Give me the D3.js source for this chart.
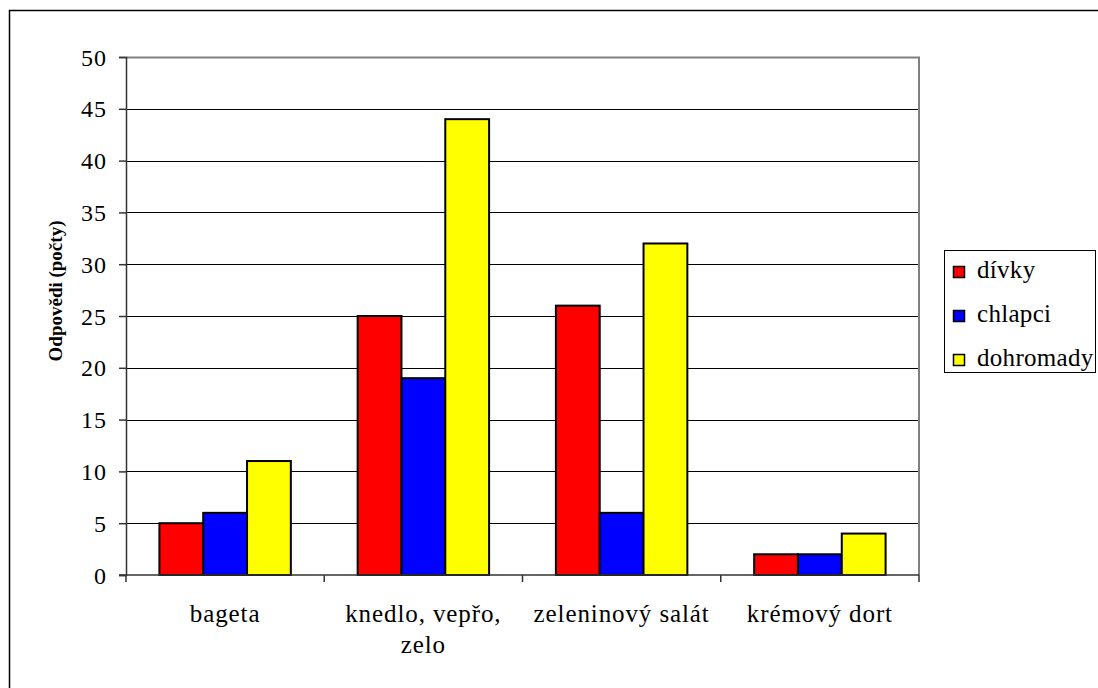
<!DOCTYPE html>
<html>
<head>
<meta charset="utf-8">
<script src="https://cdn.jsdelivr.net/npm/d3@7"></script>
<style>
  html, body { margin: 0; padding: 0; background: #fff; }
</style>
</head>
<body>
<svg id="chart" width="1098" height="688"></svg>
<script>
// Categories and series values
const categories = ["bageta", "knedlo, vepřo, zelo", "zeleninový salát", "krémový dort"];
const categoryLines = [["bageta"], ["knedlo, vepřo,", "zelo"], ["zeleninový salát"], ["krémový dort"]];
const seriesNames = ["dívky", "chlapci", "dohromady"];
const divky = [5, 25, 26, 2];
const chlapci = [6, 19, 6, 2];
const dohromady = [11, 44, 32, 4];
const yTicks = [0, 5, 10, 15, 20, 25, 30, 35, 40, 45, 50];
const seriesColors = ["#ff0000", "#0000ff", "#ffff00"];

const seriesValues = [divky, chlapci, dohromady];
const rows = categories.map((c, i) => ({
  cat: c,
  vals: seriesNames.map((s, j) => ({ key: s, value: seriesValues[j][i], color: seriesColors[j] }))
}));

// Pick the first installed Times-like serif face; DejaVu Serif is wider, so shrink it a bit.
function pickSerif() {
  const ctx = document.createElement("canvas").getContext("2d");
  const probe = "mmmmwwwwlllliiiiOOOO0123456789";
  const width = f => { ctx.font = `40px ${f}`; return ctx.measureText(probe).width; };
  const candidates = [
    { name: "Liberation Serif", scale: 1 },
    { name: "Times New Roman", scale: 1 },
    { name: "Tinos", scale: 1 },
    { name: "Noto Serif", scale: 0.9 },
    { name: "DejaVu Serif", scale: 0.86 }
  ];
  for (const c of candidates) {
    const a = width(`'${c.name}', monospace`), b = width("monospace");
    const a2 = width(`'${c.name}', sans-serif`), b2 = width("sans-serif");
    if (a !== b || a2 !== b2) return c;
  }
  return { name: "serif", scale: 1 };
}
const serif = pickSerif();
const FONT = `'${serif.name}', serif`;
const fs = s => s * serif.scale;

const svg = d3.select("#chart").attr("font-family", FONT);

// Outer frame
svg.append("rect")
  .attr("x", 9.5).attr("y", 10.5)
  .attr("width", 1098).attr("height", 700)
  .attr("fill", "none").attr("stroke", "#000").attr("stroke-width", 1.5);

const plot = { left: 126, top: 57, right: 919, bottom: 575 };

const x = d3.scaleBand().domain(categories).range([plot.left, plot.right]).paddingInner(0).paddingOuter(0);
const innerPad = 0.337;
const x1 = d3.scaleBand().domain(seriesNames).range([0, x.bandwidth()]).paddingOuter(innerPad / (1 - innerPad) * 1.5).paddingInner(0);
const y = d3.scaleLinear().domain([0, 50]).range([plot.bottom, plot.top]);

// Gridlines
svg.append("g").selectAll("line")
  .data(yTicks.filter(t => t > 0))
  .join("line")
  .attr("x1", plot.left).attr("x2", plot.right)
  .attr("y1", d => Math.round(y(d)) + 0.5).attr("y2", d => Math.round(y(d)) + 0.5)
  .attr("stroke", "#000").attr("stroke-width", 1);

// Plot area frame (top and right in gray)
svg.append("path")
  .attr("d", `M${plot.left},${plot.top + 0.5}H${plot.right}V${plot.bottom}`)
  .attr("fill", "none").attr("stroke", "#808080").attr("stroke-width", 2);

// Bars
const groups = svg.append("g").selectAll("g")
  .data(rows).join("g")
  .attr("transform", d => `translate(${x(d.cat)},0)`);
groups.selectAll("rect")
  .data(d => d.vals).join("rect")
  .attr("x", d => x1(d.key))
  .attr("y", d => y(d.value))
  .attr("width", x1.bandwidth())
  .attr("height", d => y(0) - y(d.value))
  .attr("fill", d => d.color)
  .attr("stroke", "#000").attr("stroke-width", 2);

// Y axis
const yAxis = d3.axisLeft(y).tickValues(yTicks).tickSize(7).tickPadding(12);
const gy = svg.append("g").attr("transform", `translate(${plot.left},0)`).call(yAxis)
  .attr("font-family", FONT).attr("font-size", fs(24));
gy.select(".domain").attr("stroke", "#333").attr("stroke-width", 1.5);
gy.selectAll(".tick line").attr("stroke", "#333").attr("stroke-width", 1.5);
gy.selectAll(".tick text")
  .attr("font-family", FONT).attr("font-size", fs(24)).attr("letter-spacing", 1)
  .attr("fill", "#000").attr("dy", "0.34em");

// X axis line and boundary ticks
const gx = svg.append("g");
gx.append("line")
  .attr("x1", plot.left - 7).attr("x2", plot.right)
  .attr("y1", plot.bottom).attr("y2", plot.bottom)
  .attr("stroke", "#333").attr("stroke-width", 1.5);
const bounds = categories.map(c => x(c)).concat([x.range()[1]]);
gx.selectAll("line.bt").data(bounds).join("line").attr("class", "bt")
  .attr("x1", d => d).attr("x2", d => d)
  .attr("y1", plot.bottom).attr("y2", plot.bottom + 7)
  .attr("stroke", "#333").attr("stroke-width", 1.5);

// Category labels
const lbl = gx.selectAll("text.cat").data(categories).join("text").attr("class", "cat")
  .attr("x", d => x(d) + x.bandwidth() / 2)
  .attr("y", 622)
  .attr("text-anchor", "middle")
  .attr("font-family", FONT)
  .attr("font-size", fs(25))
  .attr("letter-spacing", 0.9)
  .attr("fill", "#000");
lbl.each(function(d, i) {
  const t = d3.select(this);
  categoryLines[i].forEach((line, k) => {
    t.append("tspan").attr("x", x(d) + x.bandwidth() / 2).attr("dy", k === 0 ? 0 : 31).text(line);
  });
});

// Y axis title
svg.append("text")
  .attr("transform", `translate(62,291) rotate(-90)`)
  .attr("text-anchor", "middle")
  .attr("font-family", FONT)
  .attr("font-size", fs(19)).attr("font-weight", "bold")
  .attr("fill", "#000")
  .text("Odpovědi (počty)");

// Legend
const legend = svg.append("g");
legend.append("rect")
  .attr("x", 944.5).attr("y", 250.5).attr("width", 151).attr("height", 122)
  .attr("fill", "#fff").attr("stroke", "#000").attr("stroke-width", 1);
const li = legend.selectAll("g").data(seriesNames).join("g")
  .attr("transform", (d, i) => `translate(0,${278 + i * 44})`);
li.append("rect")
  .attr("x", 953.5).attr("y", -11.5).attr("width", 11).attr("height", 11)
  .attr("fill", (d, i) => seriesColors[i]).attr("stroke", "#000").attr("stroke-width", 1.5);
li.append("text")
  .attr("x", 977).attr("y", 0)
  .attr("font-family", FONT)
  .attr("font-size", fs(25))
  .attr("letter-spacing", 0.3)
  .attr("fill", "#000")
  .text(d => d);
</script>
</body>
</html>
